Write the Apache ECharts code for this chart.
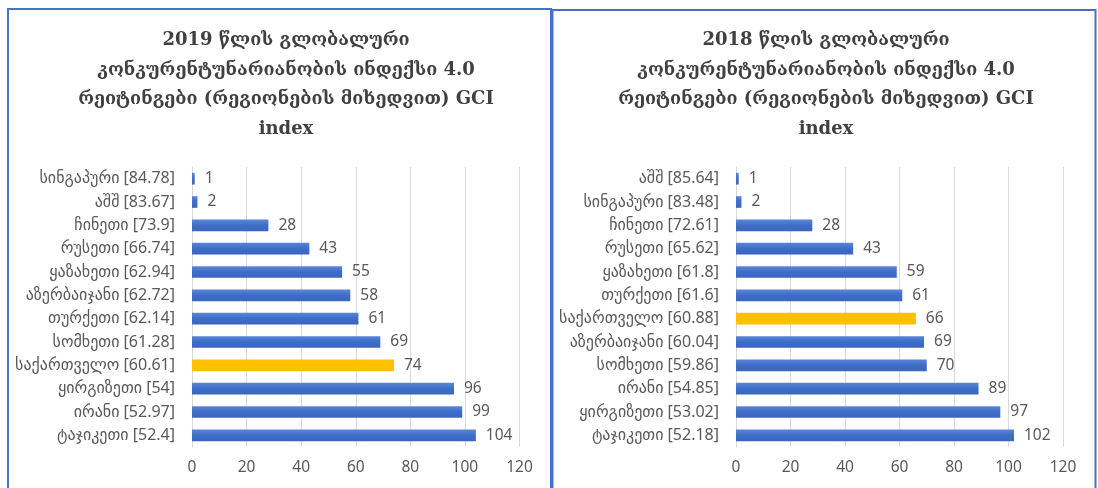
<!DOCTYPE html>
<html>
<head>
<meta charset="utf-8">
<script src="https://cdn.jsdelivr.net/npm/echarts@6/dist/echarts.min.js"></script>
<style>
html,body{margin:0;padding:0;background:#fff;}
#c{width:1098px;height:488px;}
</style>
</head>
<body>
<div id="c"></div>
<script>
// 2019 (left panel)
const names2019 = ['სინგაპური','აშშ','ჩინეთი','რუსეთი','ყაზახეთი','აზერბაიჯანი','თურქეთი','სომხეთი','საქართველო','ყირგიზეთი','ირანი','ტაჯიკეთი'];
const scores2019 = ['84.78','83.67','73.9','66.74','62.94','62.72','62.14','61.28','60.61','54','52.97','52.4'];
const ranks2019 = [1,2,28,43,55,58,61,69,74,96,99,104];
// 2018 (right panel)
const names2018 = ['აშშ','სინგაპური','ჩინეთი','რუსეთი','ყაზახეთი','თურქეთი','საქართველო','აზერბაიჯანი','სომხეთი','ირანი','ყირგიზეთი','ტაჯიკეთი'];
const scores2018 = ['85.64','83.48','72.61','65.62','61.8','61.6','60.88','60.04','59.86','54.85','53.02','52.18'];
const ranks2018 = [1,2,28,43,59,61,66,69,70,89,97,102];
const highlight = 'საქართველო';
const xTicks = {min:0, max:120, interval:20};
const title2019 = '2019 წლის გლობალური\nკონკურენტუნარიანობის ინდექსი 4.0\nრეიტინგები (რეგიონების მიხედვით) GCI\nindex';
const title2018 = '2018 წლის გლობალური\nკონკურენტუნარიანობის ინდექსი 4.0\nრეიტინგები (რეგიონების მიხედვით) GCI\nindex';

const blue = new echarts.graphic.LinearGradient(0,0,0,1,[{offset:0,color:'#5a86d8'},{offset:0.5,color:'#3f6cc6'},{offset:1,color:'#3a66c0'}]);
const yellow = '#FFC000';
const labelFont = 'Noto Sans, DejaVu Sans, sans-serif';

function mkData(names, ranks){
  return ranks.map((r,i)=>({value:r, itemStyle:{color: names[i]===highlight ? yellow : blue}}));
}
function cats(names, scores){ return names.map((n,i)=> n + ' [' + scores[i] + ']'); }

const titleStyle = {fontFamily:'DejaVu Serif, serif', fontSize:18, fontWeight:'bold', color:'#404040', lineHeight:29.5};

const chart = echarts.init(document.getElementById('c'), null, {renderer:'canvas'});
const xAxisBase = (gi)=>({
  type:'value', gridIndex:gi, min:xTicks.min, max:xTicks.max, interval:xTicks.interval,
  axisLine:{show:false}, axisTick:{show:false},
  splitLine:{show:true, lineStyle:{color:'#d9d9d9', width:1}},
  axisLabel:{color:'#595959', fontSize:15.5, fontFamily:labelFont, margin:13}
});
const yAxisBase = (gi, names, scores)=>({
  type:'category', gridIndex:gi, inverse:true, data:cats(names, scores),
  axisLine:{show:true, lineStyle:{color:'#d9d9d9'}}, axisTick:{show:false},
  axisLabel:{color:'#595959', fontSize:16, fontFamily:labelFont, margin:17}
});
const seriesBase = (gi, names, ranks)=>({
  type:'bar', xAxisIndex:gi, yAxisIndex:gi, data:mkData(names, ranks),
  barCategoryGap:'50%',
  label:{show:true, position:'right', distance:10, color:'#595959', fontSize:15.5, fontFamily:labelFont},
  animation:false
});
chart.setOption({
  animation:false,
  title:[
    {text:title2019, left:281, textAlign:'center', top:21, textStyle:titleStyle},
    {text:title2018, left:821, textAlign:'center', top:21, textStyle:titleStyle}
  ],
  grid:[
    {left:192, right:1098-519.5, top:167, height:280, containLabel:false},
    {left:736, right:1098-1063, top:167, height:280, containLabel:false}
  ],
  xAxis:[xAxisBase(0), xAxisBase(1)],
  yAxis:[yAxisBase(0, names2019, scores2019), yAxisBase(1, names2018, scores2018)],
  series:[seriesBase(0, names2019, ranks2019), seriesBase(1, names2018, ranks2018)],
  graphic:[
    {type:'rect', shape:{x:8, y:9, width:543, height:500}, style:{fill:'none', stroke:'#4472C4', lineWidth:2}, silent:true},
    {type:'rect', shape:{x:552.5, y:10, width:543, height:500}, style:{fill:'none', stroke:'#4472C4', lineWidth:2}, silent:true}
  ]
});
</script>
</body>
</html>
